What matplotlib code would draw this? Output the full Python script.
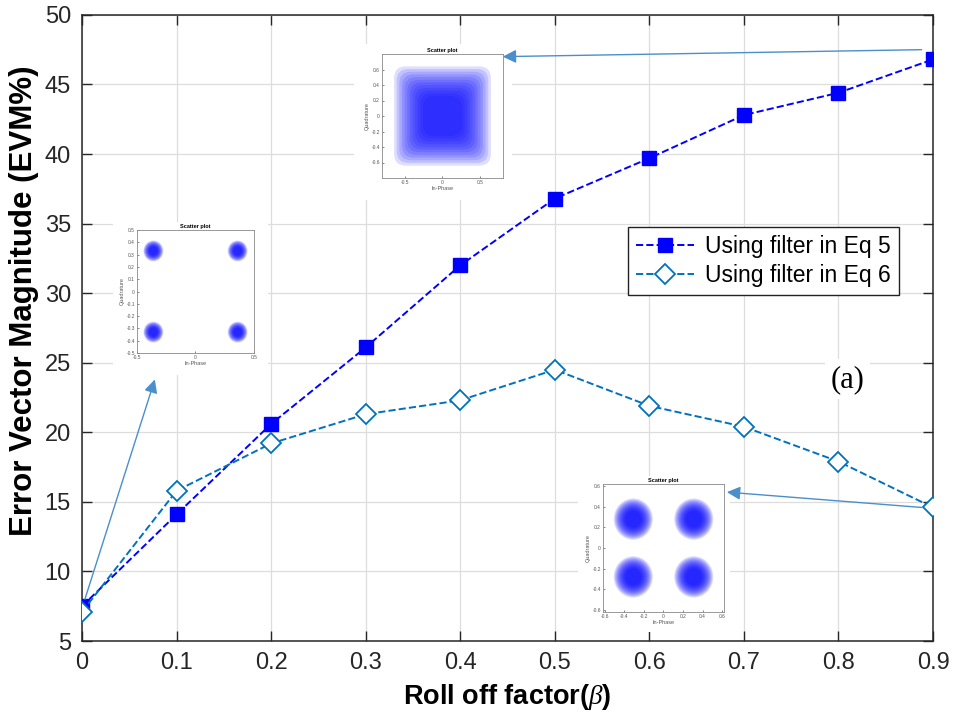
import matplotlib.pyplot as plt
from matplotlib.patches import Ellipse, Rectangle, FancyBboxPatch

plt.rcParams['font.family'] = ['Liberation Sans', 'DejaVu Sans']
plt.rcParams['mathtext.fontset'] = 'custom'
plt.rcParams['mathtext.it'] = 'Liberation Serif:italic'

# roll-off factor and EVM (%) for both filters
beta = [0, 0.1, 0.2, 0.3, 0.4, 0.5, 0.6, 0.7, 0.8, 0.9]
evm_eq5 = [7.5, 14.1, 20.6, 26.1, 32.0, 36.8, 39.7, 42.8, 44.4, 46.8]
evm_eq6 = [7.1, 15.8, 19.2, 21.3, 22.3, 24.5, 21.9, 20.4, 17.9, 14.6]

labels = ['Using filter in Eq 5', 'Using filter in Eq 6']
xticks = [0, 0.1, 0.2, 0.3, 0.4, 0.5, 0.6, 0.7, 0.8, 0.9]
yticks = [5, 10, 15, 20, 25, 30, 35, 40, 45, 50]

# constellation clusters in the scatter-plot insets: (x, y, half-size)
cloud_noisy = [(0.0, 0.0, 0.64)]
qpsk_clean = [(-0.36, 0.33, 0.085), (0.36, 0.33, 0.085),
              (-0.36, -0.33, 0.085), (0.36, -0.33, 0.085)]
qpsk_noisy = [(-0.31, 0.28, 0.2), (0.31, 0.28, 0.2),
              (-0.31, -0.28, 0.2), (0.31, -0.28, 0.2)]

W, H = 954, 723
fig = plt.figure(figsize=(W / 100, H / 100), dpi=100)
ax = fig.add_axes([0.086, 0.1134, 0.892, 0.866])

c5 = '#0000ff'
c6 = '#0072bd'
arrow_c = '#4a8fcc'

ax.plot(beta, evm_eq5, '--', color=c5, lw=1.4, marker='s', ms=10.5,
        mfc=c5, mec=c5, label=labels[0], zorder=4)
ax.plot(beta, evm_eq6, '--', color=c6, lw=1.4, marker='D', ms=10,
        mfc='white', mec=c6, mew=1.3, label=labels[1], zorder=4)

ax.set_xlim(0, 0.9)
ax.set_ylim(5, 50)
ax.set_xticks(xticks)
ax.set_xticklabels([f'{v:g}' for v in xticks])
ax.set_yticks(yticks)
ax.tick_params(direction='in', length=7, width=1, top=True, right=True,
               labelsize=17, colors='#262626', pad=8)
for s in ax.spines.values():
    s.set_color('#262626')
    s.set_linewidth(1.1)
ax.grid(True, color='#dddddd', lw=0.9)
ax.set_axisbelow(True)

ax.set_xlabel(r'Roll off factor($\beta$)', fontsize=19.5, fontweight='bold',
              labelpad=6)
ax.set_ylabel('Error Vector Magnitude (EVM%)', fontsize=22.5,
              fontweight='bold')
ax.yaxis.set_label_coords(-0.051, 0.543)

leg = ax.legend(loc='upper right', bbox_to_anchor=(0.96, 0.662),
                fontsize=16.5, fancybox=False, edgecolor='#222222',
                framealpha=1, handlelength=2.5, handletextpad=0.5,
                borderpad=0.35, labelspacing=0.3, borderaxespad=0)
leg.get_frame().set_linewidth(1.0)
leg.set_zorder(6)

ax.text(0.81, 23.8, '(a)', fontsize=22, family='Liberation Serif',
        ha='center', va='center', zorder=5,
        bbox=dict(facecolor='white', edgecolor='none', pad=4))

# arrows from the data points to the scatter-plot insets
arrows = [((0.888, 47.5), (0.445, 47.0)),
          ((0.888, 14.6), (0.682, 15.7)),
          ((0.003, 8.0), (0.077, 23.8))]
for tail, head in arrows:
    ax.annotate('', xy=head, xytext=tail, zorder=7,
                arrowprops=dict(arrowstyle='-|>', color=arrow_c, lw=1.0,
                                mutation_scale=20, shrinkA=0, shrinkB=0))


def scatter_inset(bg, frame, clusters, lim, xt, yt, square=False):
    # white card behind the inset, then the small scatter axes
    bx0, by0, bx1, by1 = bg
    ax.add_patch(Rectangle((bx0 / W, 1 - by1 / H), (bx1 - bx0) / W,
                           (by1 - by0) / H, transform=fig.transFigure,
                           facecolor='white', edgecolor='none',
                           zorder=5, clip_on=False))
    fx0, fy0, fx1, fy1 = frame
    ia = fig.add_axes([fx0 / W, 1 - fy1 / H, (fx1 - fx0) / W, (fy1 - fy0) / H])
    ia.set_zorder(8)
    n = 12
    for x, y, r in clusters:
        for k in range(n, 0, -1):
            rk = r * (0.35 + 0.65 * k / n)
            if square:
                ia.add_patch(FancyBboxPatch((x - rk, y - rk), 2 * rk, 2 * rk,
                                            boxstyle='round,pad=0,rounding_size=0.15',
                                            facecolor='#0000ff', edgecolor='none',
                                            alpha=0.13))
            else:
                ia.add_patch(Ellipse((x, y), 2 * rk, 2 * rk,
                                     facecolor='#0000ff', edgecolor='none',
                                     alpha=0.14))
    ia.set_xlim(-lim, lim)
    ia.set_ylim(-lim, lim)
    ia.set_xticks(xt)
    ia.set_yticks(yt)
    ia.set_xticklabels([f'{v:g}' for v in xt])
    ia.set_yticklabels([f'{v:g}' for v in yt])
    ia.tick_params(direction='in', length=1.5, width=0.5, labelsize=3.5,
                   colors='#555555', pad=1.5)
    for s in ia.spines.values():
        s.set_color('#888888')
        s.set_linewidth(0.6)
    ia.set_title('Scatter plot', fontsize=4, fontweight='bold', pad=1.5)
    ia.set_xlabel('In-Phase', fontsize=4, labelpad=1, color='#555555')
    ia.set_ylabel('Quadrature', fontsize=4, labelpad=1, color='#555555')


scatter_inset((354, 44, 512, 200), (382, 54, 503, 178), cloud_noisy, 0.8,
              [-0.5, 0, 0.5], [-0.6, -0.4, -0.2, 0, 0.2, 0.4, 0.6],
              square=True)
scatter_inset((113, 222, 268, 375), (137, 230, 254, 353), qpsk_clean, 0.5,
              [-0.5, 0, 0.5],
              [-0.5, -0.4, -0.3, -0.2, -0.1, 0, 0.1, 0.2, 0.3, 0.4, 0.5])
scatter_inset((578, 476, 730, 632), (603, 484, 724, 612), qpsk_noisy, 0.62,
              [-0.6, -0.4, -0.2, 0, 0.2, 0.4, 0.6],
              [-0.6, -0.4, -0.2, 0, 0.2, 0.4, 0.6])

fig.savefig('out.png', dpi=100)
